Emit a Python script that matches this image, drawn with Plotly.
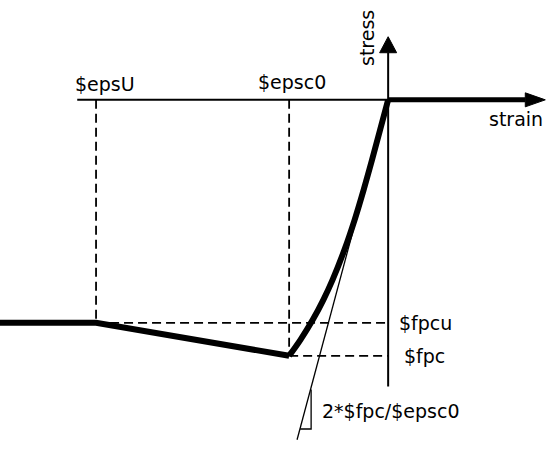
import plotly.graph_objects as go

# ---- data (strain in per-mille, stress in arbitrary units, compression negative)
eps_U = -5.9
eps_c0 = -2.0
f_pc = -5.0
f_pcu = -4.355

# softening / residual branch (straight segments)
soft_strain = [-7.95, -5.90, -2.00]
soft_stress = [-4.355, -4.355, -5.00]
# ascending branch
asc_strain = [-2.000, -1.772, -1.523, -1.309, -1.123, -0.883, -0.677, -0.495,
              -0.325, -0.162, 0.0]
asc_stress = [-5.000, -4.688, -4.297, -3.906, -3.516, -2.930, -2.344, -1.758,
              -1.172, -0.586, 0.0]
# tension branch (zero stress)
ten_strain = [0.0, 2.77]
ten_stress = [0.0, 0.0]

# drawn initial-tangent line end
tangent_strain = [0.0, -1.84]
tangent_stress = [0.0, -6.64]
# slope triangle
tri_strain = [-1.556, -1.556, -1.778]
tri_stress = [-5.66, -6.43, -6.43]

# axis extents
strain_axis = [-6.28, 2.77]
stress_axis = [-5.60, 0.92]

labels = {"epsU": "$epsU", "epsc0": "$epsc0", "fpcu": "$fpcu", "fpc": "$fpc",
          "slope": "2*$fpc/$epsc0", "x": "strain", "y": "stress"}

# ---- styling constants
XR = [-7.84, 3.37]
YR = [-6.84, 1.95]
W, H = 555, 450
px_x = (XR[1] - XR[0]) / W
px_y = (YR[1] - YR[0]) / H
FONT = dict(family="DejaVu Sans", size=19, color="black")
dash = dict(color="black", width=1.8, dash="9px,5px")

fig = go.Figure()

def add_line(xs, ys, shape="linear", **line):
    fig.add_trace(go.Scatter(x=xs, y=ys, mode="lines", line=dict(shape=shape, **line),
                             hoverinfo="skip", showlegend=False))

# axes (thin)
add_line(strain_axis, [0, 0], color="black", width=2)
add_line([0, 0], stress_axis, color="black", width=2)

# arrowheads
hx = strain_axis[1]
fig.add_trace(go.Scatter(x=[hx, hx + 20 * px_x, hx, hx], y=[7 * px_y, 0, -7 * px_y, 7 * px_y],
                         mode="lines", fill="toself", fillcolor="black",
                         line=dict(color="black", width=1), hoverinfo="skip", showlegend=False))
vy = stress_axis[1]
fig.add_trace(go.Scatter(x=[-8.5 * px_x, 0, 8.5 * px_x, -8.5 * px_x], y=[vy, vy + 16 * px_y, vy, vy],
                         mode="lines", fill="toself", fillcolor="black",
                         line=dict(color="black", width=1), hoverinfo="skip", showlegend=False))

# dashed reference lines
add_line([eps_U, eps_U], [0, f_pcu], **dash)
add_line([eps_c0, eps_c0], [0, f_pc], **dash)
add_line([eps_U, 0], [f_pcu, f_pcu], **dash)
add_line([eps_c0, 0], [f_pc, f_pc], **dash)

# tangent and slope triangle
add_line(tangent_strain, tangent_stress, color="black", width=1.3)
add_line(tri_strain, tri_stress, color="black", width=1.3)

# main curve
add_line(soft_strain, soft_stress, color="black", width=6)
add_line(asc_strain, asc_stress, shape="spline", color="black", width=6)
add_line(ten_strain, ten_stress, color="black", width=5)

def ann(x, y, text, xa="center", ya="middle", angle=0):
    fig.add_annotation(x=x, y=y, text=text, showarrow=False, xanchor=xa, yanchor=ya,
                       textangle=angle, font=FONT, xref="x", yref="y")

ann(eps_U + 9 * px_x, 16 * px_y, labels["epsU"])
ann(eps_c0 + 3 * px_x, 18 * px_y, labels["epsc0"])
ann(2.77 + 20 * px_x, -19 * px_y, labels["x"], xa="right")
ann(-21 * px_x, 62 * px_y, labels["y"], angle=-90)
ann(9 * px_x, f_pcu, labels["fpcu"], xa="left")
ann(14 * px_x, f_pc, labels["fpc"], xa="left")
ann(-68 * px_x, -6.07, labels["slope"], xa="left")

fig.update_xaxes(range=XR, visible=False, fixedrange=True)
fig.update_yaxes(range=YR, visible=False, fixedrange=True)
fig.update_layout(width=W, height=H, autosize=False, margin=dict(l=0, r=0, t=0, b=0),
                  plot_bgcolor="white", paper_bgcolor="white")

fig.write_html("out.html", post_script="document.body.style.margin='0';",
               config={"displayModeBar": False})
